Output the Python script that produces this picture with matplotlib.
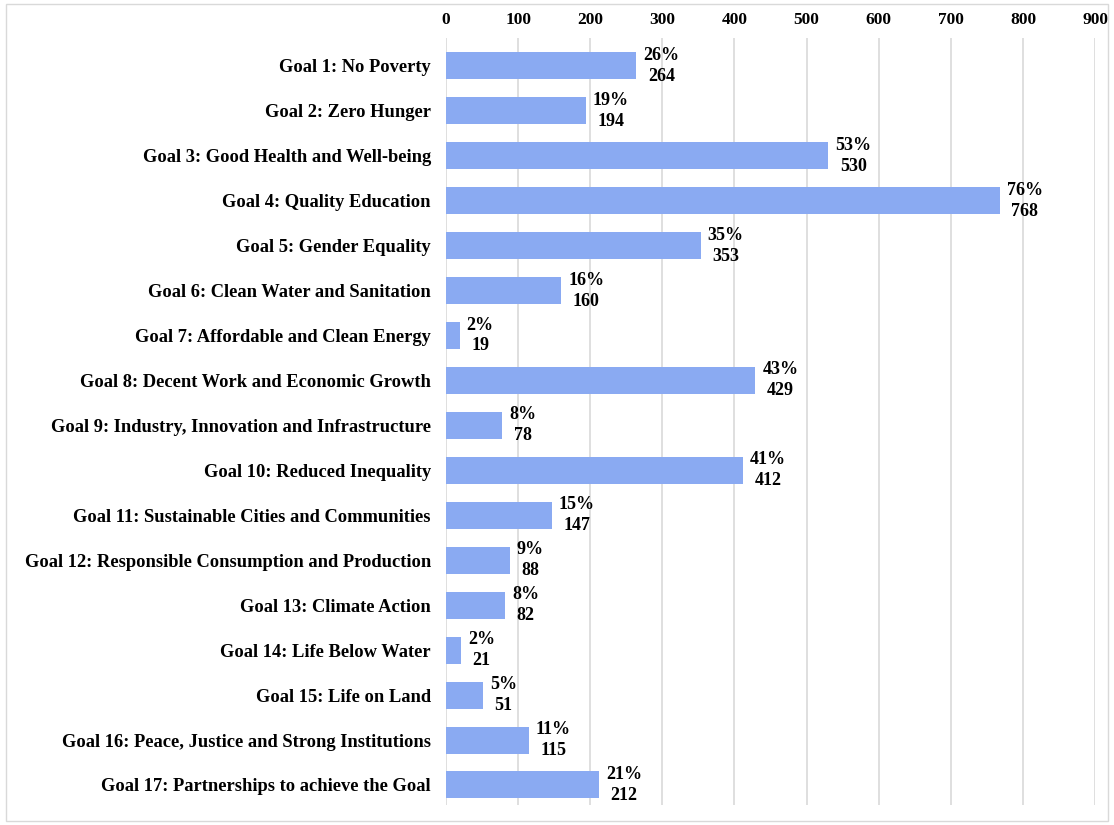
import matplotlib.pyplot as plt
from matplotlib.patches import Rectangle

goals = ['Goal 1: No Poverty', 'Goal 2: Zero Hunger', 'Goal 3: Good Health and Well-being',
         'Goal 4: Quality Education', 'Goal 5: Gender Equality', 'Goal 6: Clean Water and Sanitation',
         'Goal 7: Affordable and Clean Energy', 'Goal 8: Decent Work and Economic Growth',
         'Goal 9: Industry, Innovation and Infrastructure', 'Goal 10: Reduced Inequality',
         'Goal 11: Sustainable Cities and Communities', 'Goal 12: Responsible Consumption and Production',
         'Goal 13: Climate Action', 'Goal 14: Life Below Water', 'Goal 15: Life on Land',
         'Goal 16: Peace, Justice and Strong Institutions', 'Goal 17: Partnerships to achieve the Goal']
counts = [264, 194, 530, 768, 353, 160, 19, 429, 78, 412, 147, 88, 82, 21, 51, 115, 212]
pcts = [26, 19, 53, 76, 35, 16, 2, 43, 8, 41, 15, 9, 8, 2, 5, 11, 21]
xticks = [0, 100, 200, 300, 400, 500, 600, 700, 800, 900]

plt.rcParams['font.family'] = ['Liberation Serif', 'DejaVu Serif']
plt.rcParams['font.weight'] = 'bold'

fig = plt.figure(figsize=(11.14, 8.25), dpi=100)
ax = fig.add_axes([0.4004, 0.024, 0.5826, 0.93])

ypos = list(range(len(goals)))
ax.barh(ypos, counts, height=0.6, color='#8AAAF2', zorder=2)

# value labels: percentage over count, just right of each bar
for y, c, p in zip(ypos, counts, pcts):
    ax.annotate(f'{p}%\n{c}', (c, y), xytext=(5, 0), textcoords='offset points',
                ha='left', va='center', multialignment='center',
                fontsize=13, fontweight='bold', linespacing=1.3, zorder=3)

ax.set_xlim(0, 900)
ax.set_ylim(16.45, -0.62)
ax.set_xticks(xticks)
ax.set_yticks(ypos)
ax.set_yticklabels(goals, fontsize=13.3, fontweight='bold')
ax.xaxis.tick_top()
ax.tick_params(axis='x', length=0, labelsize=12.5, pad=7)
ax.tick_params(axis='y', length=0, pad=11)
ax.grid(axis='x', color='#d9d9d9', linewidth=1.2, zorder=0)
for s in ax.spines.values():
    s.set_visible(False)

# thin frame around the whole chart
fig.patches.append(Rectangle((0.005, 0.005), 0.99, 0.99, transform=fig.transFigure,
                             fill=False, edgecolor='#d9d9d9', linewidth=1))

fig.savefig('out.png', dpi=100)
